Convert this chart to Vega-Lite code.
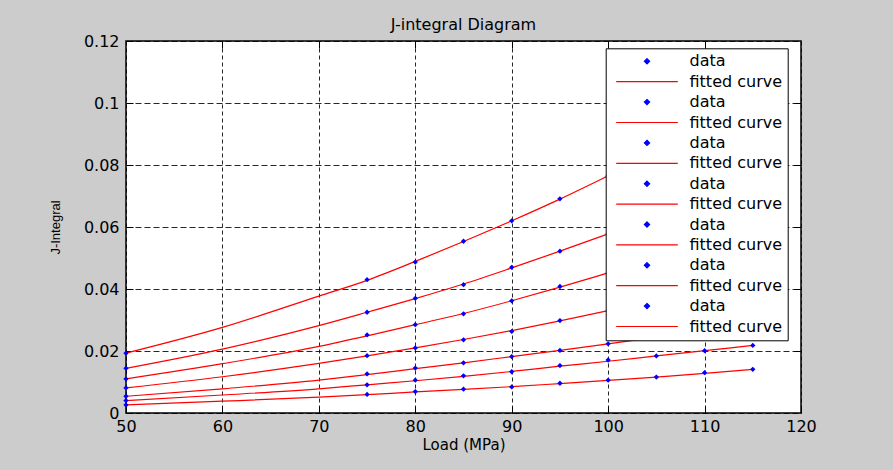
{
  "$schema": "https://vega.github.io/schema/vega-lite/v6.json",
  "width": 675,
  "height": 372,
  "autosize": {"type": "none"},
  "padding": {"left": 126, "top": 41, "right": 92, "bottom": 57},
  "background": "#cccccc",
  "title": {"text": "J-integral Diagram", "font": "DejaVu Sans", "fontSize": 16, "fontWeight": "normal", "color": "#000000", "anchor": "middle", "frame": "group", "offset": 12, "baseline": "alphabetic", "dy": 25},
  "config": {
    "view": {"fill": "white", "stroke": "black", "strokeWidth": 1.5},
    "axis": {"labelFont": "DejaVu Sans", "labelFontSize": 16, "labelColor": "#000000", "titleFont": "DejaVu Sans", "titleFontWeight": "normal", "titleColor": "#000000", "tickColor": "#000000", "labelFlush": false, "labelOverlap": false}
  },
  "datasets": {
    "pts": [
      {"s":1,"x":50,"y":0.0193,"k":"d1"},{"s":1,"x":75,"y":0.0430,"k":"d1"},{"s":1,"x":80,"y":0.0487,"k":"d1"},{"s":1,"x":85,"y":0.0554,"k":"d1"},{"s":1,"x":90,"y":0.0620,"k":"d1"},{"s":1,"x":95,"y":0.0691,"k":"d1"},{"s":1,"x":100,"y":0.0765,"k":"d1"},{"s":1,"x":105,"y":0.0840,"k":"d1"},{"s":1,"x":110,"y":0.0920,"k":"d1"},{"s":1,"x":115,"y":0.1005,"k":"d1"},
      {"s":2,"x":50,"y":0.0144,"k":"d2"},{"s":2,"x":75,"y":0.0325,"k":"d2"},{"s":2,"x":80,"y":0.0370,"k":"d2"},{"s":2,"x":85,"y":0.0414,"k":"d2"},{"s":2,"x":90,"y":0.0470,"k":"d2"},{"s":2,"x":95,"y":0.0522,"k":"d2"},{"s":2,"x":100,"y":0.0578,"k":"d2"},{"s":2,"x":105,"y":0.0637,"k":"d2"},{"s":2,"x":110,"y":0.0700,"k":"d2"},{"s":2,"x":115,"y":0.0765,"k":"d2"},
      {"s":3,"x":50,"y":0.0110,"k":"d3"},{"s":3,"x":75,"y":0.0252,"k":"d3"},{"s":3,"x":80,"y":0.0285,"k":"d3"},{"s":3,"x":85,"y":0.0320,"k":"d3"},{"s":3,"x":90,"y":0.0362,"k":"d3"},{"s":3,"x":95,"y":0.0408,"k":"d3"},{"s":3,"x":100,"y":0.0452,"k":"d3"},{"s":3,"x":105,"y":0.0498,"k":"d3"},{"s":3,"x":110,"y":0.0545,"k":"d3"},{"s":3,"x":115,"y":0.0595,"k":"d3"},
      {"s":4,"x":50,"y":0.0081,"k":"d4"},{"s":4,"x":75,"y":0.0185,"k":"d4"},{"s":4,"x":80,"y":0.0210,"k":"d4"},{"s":4,"x":85,"y":0.0236,"k":"d4"},{"s":4,"x":90,"y":0.0263,"k":"d4"},{"s":4,"x":95,"y":0.0298,"k":"d4"},{"s":4,"x":100,"y":0.0330,"k":"d4"},{"s":4,"x":105,"y":0.0365,"k":"d4"},{"s":4,"x":110,"y":0.0400,"k":"d4"},{"s":4,"x":115,"y":0.0437,"k":"d4"},
      {"s":5,"x":50,"y":0.0054,"k":"d5"},{"s":5,"x":75,"y":0.0126,"k":"d5"},{"s":5,"x":80,"y":0.0145,"k":"d5"},{"s":5,"x":85,"y":0.0162,"k":"d5"},{"s":5,"x":90,"y":0.0182,"k":"d5"},{"s":5,"x":95,"y":0.0202,"k":"d5"},{"s":5,"x":100,"y":0.0223,"k":"d5"},{"s":5,"x":105,"y":0.0245,"k":"d5"},{"s":5,"x":110,"y":0.0268,"k":"d5"},{"s":5,"x":115,"y":0.0292,"k":"d5"},
      {"s":6,"x":50,"y":0.0040,"k":"d6"},{"s":6,"x":75,"y":0.0091,"k":"d6"},{"s":6,"x":80,"y":0.0106,"k":"d6"},{"s":6,"x":85,"y":0.0120,"k":"d6"},{"s":6,"x":90,"y":0.0133,"k":"d6"},{"s":6,"x":95,"y":0.0153,"k":"d6"},{"s":6,"x":100,"y":0.0171,"k":"d6"},{"s":6,"x":105,"y":0.0184,"k":"d6"},{"s":6,"x":110,"y":0.0201,"k":"d6"},{"s":6,"x":115,"y":0.0218,"k":"d6"},
      {"s":7,"x":50,"y":0.0026,"k":"d7"},{"s":7,"x":75,"y":0.0060,"k":"d7"},{"s":7,"x":80,"y":0.0069,"k":"d7"},{"s":7,"x":85,"y":0.0077,"k":"d7"},{"s":7,"x":90,"y":0.0084,"k":"d7"},{"s":7,"x":95,"y":0.0096,"k":"d7"},{"s":7,"x":100,"y":0.0106,"k":"d7"},{"s":7,"x":105,"y":0.0116,"k":"d7"},{"s":7,"x":110,"y":0.0130,"k":"d7"},{"s":7,"x":115,"y":0.0141,"k":"d7"}
    ],
    "fit": [
      {"s":1,"x":50,"y":0.0193,"k":"f1"},{"s":1,"x":60,"y":0.0276,"k":"f1"},{"s":1,"x":70,"y":0.0377,"k":"f1"},{"s":1,"x":75,"y":0.0428,"k":"f1"},{"s":1,"x":80,"y":0.0489,"k":"f1"},{"s":1,"x":85,"y":0.0553,"k":"f1"},{"s":1,"x":90,"y":0.0620,"k":"f1"},{"s":1,"x":95,"y":0.0690,"k":"f1"},{"s":1,"x":100,"y":0.0765,"k":"f1"},{"s":1,"x":105,"y":0.0842,"k":"f1"},{"s":1,"x":110,"y":0.0922,"k":"f1"},{"s":1,"x":115,"y":0.1006,"k":"f1"},
      {"s":2,"x":50,"y":0.0144,"k":"f2"},{"s":2,"x":60,"y":0.0206,"k":"f2"},{"s":2,"x":70,"y":0.0282,"k":"f2"},{"s":2,"x":75,"y":0.0325,"k":"f2"},{"s":2,"x":80,"y":0.0369,"k":"f2"},{"s":2,"x":85,"y":0.0416,"k":"f2"},{"s":2,"x":90,"y":0.0468,"k":"f2"},{"s":2,"x":95,"y":0.0522,"k":"f2"},{"s":2,"x":100,"y":0.0578,"k":"f2"},{"s":2,"x":105,"y":0.0637,"k":"f2"},{"s":2,"x":110,"y":0.0700,"k":"f2"},{"s":2,"x":115,"y":0.0765,"k":"f2"},
      {"s":3,"x":50,"y":0.0110,"k":"f3"},{"s":3,"x":60,"y":0.0159,"k":"f3"},{"s":3,"x":70,"y":0.0215,"k":"f3"},{"s":3,"x":75,"y":0.0249,"k":"f3"},{"s":3,"x":80,"y":0.0285,"k":"f3"},{"s":3,"x":85,"y":0.0321,"k":"f3"},{"s":3,"x":90,"y":0.0362,"k":"f3"},{"s":3,"x":95,"y":0.0406,"k":"f3"},{"s":3,"x":100,"y":0.0452,"k":"f3"},{"s":3,"x":105,"y":0.0498,"k":"f3"},{"s":3,"x":110,"y":0.0546,"k":"f3"},{"s":3,"x":115,"y":0.0595,"k":"f3"},
      {"s":4,"x":50,"y":0.0081,"k":"f4"},{"s":4,"x":60,"y":0.0117,"k":"f4"},{"s":4,"x":70,"y":0.0160,"k":"f4"},{"s":4,"x":75,"y":0.0184,"k":"f4"},{"s":4,"x":80,"y":0.0210,"k":"f4"},{"s":4,"x":85,"y":0.0237,"k":"f4"},{"s":4,"x":90,"y":0.0266,"k":"f4"},{"s":4,"x":95,"y":0.0297,"k":"f4"},{"s":4,"x":100,"y":0.0330,"k":"f4"},{"s":4,"x":105,"y":0.0365,"k":"f4"},{"s":4,"x":110,"y":0.0400,"k":"f4"},{"s":4,"x":115,"y":0.0437,"k":"f4"},
      {"s":5,"x":50,"y":0.0054,"k":"f5"},{"s":5,"x":60,"y":0.0078,"k":"f5"},{"s":5,"x":70,"y":0.0106,"k":"f5"},{"s":5,"x":75,"y":0.0124,"k":"f5"},{"s":5,"x":80,"y":0.0143,"k":"f5"},{"s":5,"x":85,"y":0.0162,"k":"f5"},{"s":5,"x":90,"y":0.0182,"k":"f5"},{"s":5,"x":95,"y":0.0202,"k":"f5"},{"s":5,"x":100,"y":0.0223,"k":"f5"},{"s":5,"x":105,"y":0.0245,"k":"f5"},{"s":5,"x":110,"y":0.0268,"k":"f5"},{"s":5,"x":115,"y":0.0292,"k":"f5"},
      {"s":6,"x":50,"y":0.0040,"k":"f6"},{"s":6,"x":60,"y":0.0058,"k":"f6"},{"s":6,"x":70,"y":0.0078,"k":"f6"},{"s":6,"x":75,"y":0.0091,"k":"f6"},{"s":6,"x":80,"y":0.0104,"k":"f6"},{"s":6,"x":85,"y":0.0118,"k":"f6"},{"s":6,"x":90,"y":0.0134,"k":"f6"},{"s":6,"x":95,"y":0.0151,"k":"f6"},{"s":6,"x":100,"y":0.0167,"k":"f6"},{"s":6,"x":105,"y":0.0184,"k":"f6"},{"s":6,"x":110,"y":0.0201,"k":"f6"},{"s":6,"x":115,"y":0.0218,"k":"f6"},
      {"s":7,"x":50,"y":0.0026,"k":"f7"},{"s":7,"x":60,"y":0.0038,"k":"f7"},{"s":7,"x":70,"y":0.0051,"k":"f7"},{"s":7,"x":75,"y":0.0059,"k":"f7"},{"s":7,"x":80,"y":0.0068,"k":"f7"},{"s":7,"x":85,"y":0.0076,"k":"f7"},{"s":7,"x":90,"y":0.0085,"k":"f7"},{"s":7,"x":95,"y":0.0095,"k":"f7"},{"s":7,"x":100,"y":0.0105,"k":"f7"},{"s":7,"x":105,"y":0.0116,"k":"f7"},{"s":7,"x":110,"y":0.0128,"k":"f7"},{"s":7,"x":115,"y":0.0141,"k":"f7"}
    ]
  },
  "resolve": {"axis": {"x": "independent", "y": "independent"}},
  "layer": [
    {
      "data": {"name": "fit"},
      "mark": {"type": "line", "interpolate": "monotone", "strokeWidth": 1.2},
      "encoding": {
        "x": {"field": "x", "type": "quantitative", "scale": {"domain": [50, 120], "nice": false, "zero": false},
              "axis": {"orient": "bottom", "values": [50, 60, 70, 80, 90, 100, 110, 120], "grid": true, "gridColor": "#000000", "gridOpacity": 0.85, "gridDash": [4, 3], "domain": false, "ticks": true, "tickSize": -7, "labelPadding": 12, "title": "Load (MPa)", "titleFontSize": 15, "titleBaseline": "top", "titleY": 24}},
        "y": {"field": "y", "type": "quantitative", "scale": {"domain": [0, 0.12], "nice": false},
              "axis": {"orient": "left", "values": [0, 0.02, 0.04, 0.06, 0.08, 0.1, 0.12], "format": ".2~f", "grid": true, "gridColor": "#000000", "gridOpacity": 0.85, "gridDash": [6, 3], "domain": false, "ticks": true, "tickSize": -7, "labelPadding": 14, "title": "J-Integral", "titleFont": "Liberation Sans", "titleFontSize": 13, "titleX": -64, "titleY": 186}},
        "detail": {"field": "s"},
        "color": {"field": "k", "type": "nominal",
          "scale": {"domain": ["d1","f1","d2","f2","d3","f3","d4","f4","d5","f5","d6","f6","d7","f7"],
                    "range": ["#0000ff","#ff0000","#0000ff","#ff0000","#0000ff","#ff0000","#0000ff","#ff0000","#0000ff","#ff0000","#0000ff","#ff0000","#0000ff","#ff0000"]},
          "legend": {"title": null, "orient": "none", "legendX": 479.7, "legendY": 7.3, "fillColor": "white", "strokeColor": "black", "padding": 5,
                     "labelFont": "DejaVu Sans", "labelFontSize": 16, "labelColor": "#000000",
                     "labelExpr": "test(/^d/, datum.value) ? 'data' : 'fitted curve'",
                     "symbolSize": 3795, "symbolStrokeWidth": 1.2, "symbolOffset": 4.8, "labelOffset": 11, "clipHeight": 16, "rowPadding": 4.4, "symbolLimit": 50,
                     "encode": {"symbols": {"update": {
                        "shape": {"signal": "test(/^f/, datum.value) ? 'M-1,0H1' : 'M0,-0.085L0.085,0L0,0.085L-0.085,0Z'"},
                        "stroke": {"signal": "test(/^f/, datum.value) ? '#ff0000' : '#0000ff'"},
                        "fill": {"signal": "test(/^f/, datum.value) ? 'transparent' : '#0000ff'"},
                        "opacity": {"value": 1}}}}}
        }
      }
    },
    {
      "data": {"name": "pts"},
      "mark": {"type": "point", "shape": "diamond", "filled": true, "size": 28, "opacity": 1},
      "encoding": {
        "x": {"field": "x", "type": "quantitative",
              "axis": {"orient": "top", "values": [60, 70, 80, 90, 100, 110], "labels": false, "grid": false, "domain": false, "ticks": true, "tickSize": -7, "title": null, "minExtent": 0, "maxExtent": 0}},
        "y": {"field": "y", "type": "quantitative",
              "axis": {"orient": "right", "values": [0.02, 0.04, 0.06, 0.08, 0.1], "labels": false, "grid": false, "domain": false, "ticks": true, "tickSize": -7, "title": null, "minExtent": 0, "maxExtent": 0}},
        "color": {"field": "k", "type": "nominal"}
      }
    }
  ]
}
